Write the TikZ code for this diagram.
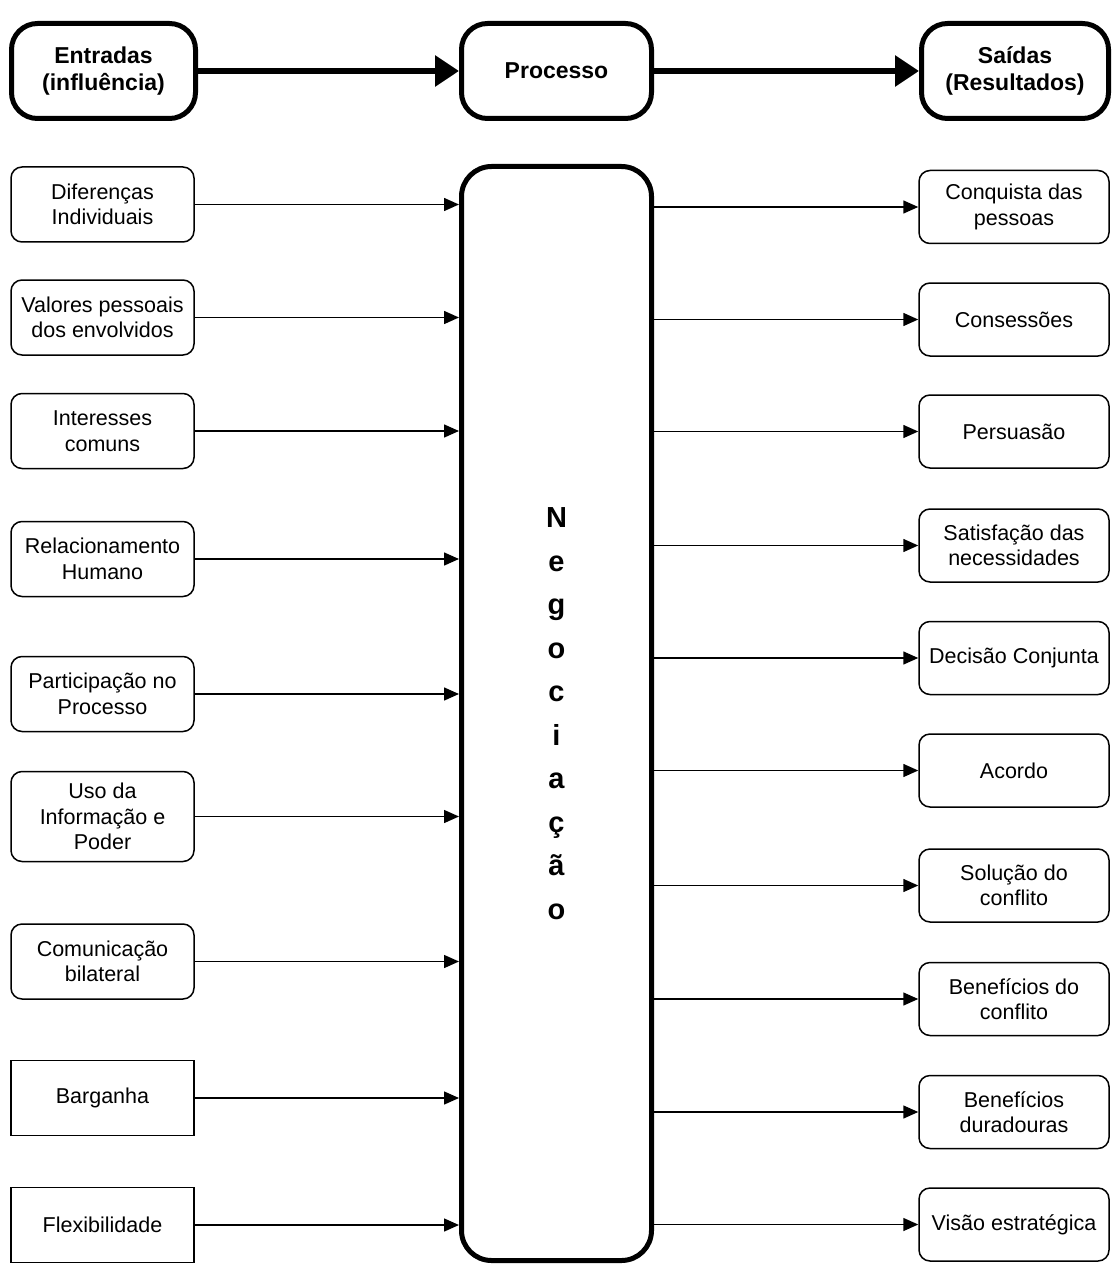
\documentclass[tikz,border=0pt]{standalone}
\usepackage{fontspec}
\setmainfont{Liberation Sans}
\usetikzlibrary{arrows.meta}

\tikzset{every picture/.style={line width=1.5pt}}
\tikzset{
  topbox/.style={draw, line width=5pt, rounded corners=26pt, align=center, font=\fontsize{23}{27}\selectfont\bfseries},
  inbox/.style={draw, rounded corners=11pt, align=center, minimum width=183pt, minimum height=75pt, inner sep=0pt, font=\fontsize{21.5}{25.5}\selectfont},
  sqbox/.style={draw, align=center, minimum width=183pt, minimum height=75pt, inner sep=0pt, font=\fontsize{21.5}{25.5}\selectfont},
  outbox/.style={draw, rounded corners=11pt, align=center, minimum width=190pt, minimum height=73pt, inner sep=0pt, font=\fontsize{21.5}{25.5}\selectfont},
  thin/.style={-{Triangle[length=15pt,width=13pt]}},
  thick/.style={line width=6pt, -{Triangle[length=24pt,width=30pt]}}
}

\begin{document}
\begin{tikzpicture}[x=1pt,y=1pt,yscale=-1,xscale=1]
    \useasboundingbox (0,0) rectangle (1112,1265);

    %Top row
    \node[topbox, minimum width=184pt, minimum height=95pt] (ent) at (103.5,71) {Entradas\\(influência)};
    \node[topbox, minimum width=190pt, minimum height=95pt] (pro) at (556.5,71) {Processo};
    \node[topbox, minimum width=187pt, minimum height=95pt] (sai) at (1015,71) {Saídas\\(Resultados)};
    \draw[thick] (ent) -- (pro);
    \draw[thick] (pro) -- (sai);

    %Central process
    \node[draw, line width=5pt, rounded corners=30pt, minimum width=190pt, minimum height=1094pt,
          font=\fontsize{29}{43.5}\selectfont\bfseries, align=center] (neg) at (556.5,713.5)
          {N\\e\\g\\o\\c\\i\\a\\ç\\ã\\o};

    %Inputs
    \node[inbox] (dif) at (102.5,204.5) {Diferenças\\Individuais};
    \node[inbox] (val) at (102.5,317.5) {Valores pessoais\\dos envolvidos};
    \node[inbox] (int) at (102.5,431) {Interesses\\comuns};
    \node[inbox] (rel) at (102.5,559) {Relacionamento\\Humano};
    \node[inbox] (par) at (102.5,694) {Participação no\\Processo};
    \node[inbox, minimum height=90pt] (uso) at (102.5,816.5) {Uso da\\Informação e\\Poder};
    \node[inbox] (com) at (102.5,961.5) {Comunicação\\bilateral};
    \node[sqbox] (bar) at (102.5,1098) {Barganha};
    \node[sqbox] (fle) at (102.5,1225) {Flexibilidade};

    \foreach \n in {dif,val,int,rel,par,uso,com,bar,fle}
      \draw[thin] (\n.east) -- (\n.east -| neg.west);

    %Outputs
    \node[outbox] (con) at (1014,207) {Conquista das\\pessoas};
    \node[outbox] (cns) at (1014,319.5) {Consessões};
    \node[outbox] (per) at (1014,431.5) {Persuasão};
    \node[outbox] (sat) at (1014,545.5) {Satisfação das\\necessidades};
    \node[outbox] (dec) at (1014,658) {Decisão Conjunta};
    \node[outbox] (aco) at (1014,770.5) {Acordo};
    \node[outbox] (sol) at (1014,885.5) {Solução do\\conflito};
    \node[outbox] (ben) at (1014,999) {Benefícios do\\conflito};
    \node[outbox] (bdu) at (1014,1112) {Benefícios\\duradouras};
    \node[outbox] (vis) at (1014,1224.5) {Visão estratégica};

    \foreach \n in {con,cns,per,sat,dec,aco,sol,ben,bdu,vis}
      \draw[thin] (neg.east |- \n.west) -- (\n.west);

\end{tikzpicture}
\end{document}
